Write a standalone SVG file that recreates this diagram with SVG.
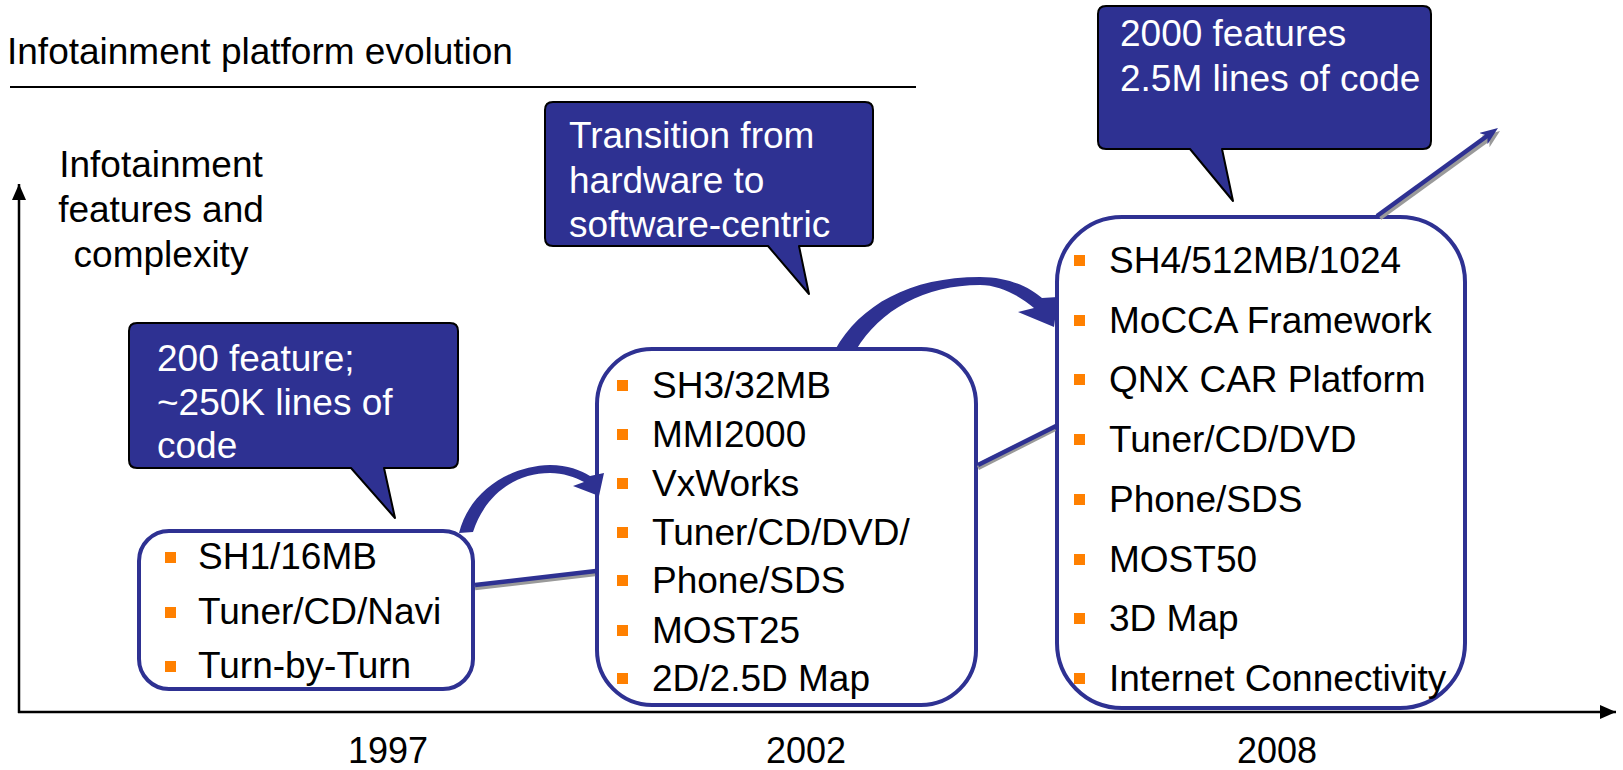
<svg xmlns="http://www.w3.org/2000/svg" width="1623" height="770" viewBox="0 0 1623 770">
<style>
text{font-family:"Liberation Sans",Arial,sans-serif;font-size:37px;fill:#000}
.wt{fill:#fff}
.mid{text-anchor:middle}
.box{fill:#fff;stroke:#2e3192;stroke-width:4}
.call{fill:#2e3192;stroke:#000;stroke-width:2;stroke-linejoin:round}
.bul{fill:#ff8000}
.trend{stroke:#2e3192;stroke-width:4.5;fill:none}
.shadow{stroke:#9a9a9a;stroke-width:4.5;fill:none}
.axis{stroke:#000;stroke-width:2.5;fill:none}
.arc{fill:#2e3192}
</style>
<defs>
<marker id="axhead" viewBox="0 0 16 14" refX="16" refY="7" markerWidth="16" markerHeight="14" markerUnits="userSpaceOnUse" orient="auto"><path d="M0,0 L16,7 L0,14 Z" fill="#000"/></marker>
<marker id="bluehead" viewBox="0 0 18 14" refX="10" refY="7" markerWidth="18" markerHeight="14" markerUnits="userSpaceOnUse" orient="auto"><path d="M0,0 L18,7 L0,14 L5,7 Z" fill="#2e3192"/></marker>
<marker id="grayhead" viewBox="0 0 18 14" refX="10" refY="7" markerWidth="18" markerHeight="14" markerUnits="userSpaceOnUse" orient="auto"><path d="M0,0 L18,7 L0,14 L5,7 Z" fill="#9a9a9a"/></marker>
</defs>

<g id="title">
<text x="7" y="64">Infotainment platform evolution</text>
<line x1="10" y1="87" x2="916" y2="87" stroke="#000" stroke-width="2"/>
</g>

<g id="y-label">
<text class="mid" x="161" y="177">Infotainment</text>
<text class="mid" x="161" y="222">features and</text>
<text class="mid" x="161" y="267">complexity</text>
</g>

<g id="axes">
<line class="axis" x1="19" y1="713" x2="19" y2="184" marker-end="url(#axhead)"/>
<line class="axis" x1="18" y1="712" x2="1616" y2="712" marker-end="url(#axhead)"/>
</g>

<g id="years">
<text class="mid" x="388" y="763" style="font-size:36px">1997</text>
<text class="mid" x="806" y="763" style="font-size:36px">2002</text>
<text class="mid" x="1277" y="763" style="font-size:36px">2008</text>
</g>

<g id="callout-1997">
<path class="call" d="M137,323 H450 Q458,323 458,331 V460 Q458,468 450,468 H384 L395,518 L351,468 H137 Q129,468 129,460 V331 Q129,323 137,323 Z"/>
<text class="wt" x="157" y="371">200 feature;</text>
<text class="wt" x="157" y="415">~250K lines of</text>
<text class="wt" x="157" y="458">code</text>
</g>

<g id="callout-2002">
<path class="call" d="M553,102 H865 Q873,102 873,110 V238 Q873,246 865,246 H799 L809,294 L768,246 H553 Q545,246 545,238 V110 Q545,102 553,102 Z"/>
<text class="wt" x="569" y="148">Transition from</text>
<text class="wt" x="569" y="193">hardware to</text>
<text class="wt" x="569" y="237">software-centric</text>
</g>

<g id="callout-2008">
<path class="call" d="M1106,6 H1423 Q1431,6 1431,14 V141 Q1431,149 1423,149 H1222 L1233,201 L1190,149 H1106 Q1098,149 1098,141 V14 Q1098,6 1106,6 Z"/>
<text class="wt" x="1120" y="46">2000 features</text>
<text class="wt" x="1120" y="91">2.5M lines of code</text>
</g>

<g id="node-1997">
<rect class="box" x="139" y="531" width="334" height="158" rx="30" ry="30"/>
<rect class="bul" x="165" y="552" width="11" height="11"/><text x="198" y="569">SH1/16MB</text>
<rect class="bul" x="165" y="607" width="11" height="11"/><text x="198" y="624">Tuner/CD/Navi</text>
<rect class="bul" x="165" y="661" width="11" height="11"/><text x="198" y="678">Turn-by-Turn</text>
</g>

<g id="node-2002">
<rect class="box" x="597" y="349" width="379" height="356" rx="55" ry="55"/>
<rect class="bul" x="617" y="380" width="11" height="11"/><text x="652" y="398">SH3/32MB</text>
<rect class="bul" x="617" y="429" width="11" height="11"/><text x="652" y="447">MMI2000</text>
<rect class="bul" x="617" y="478" width="11" height="11"/><text x="652" y="496">VxWorks</text>
<rect class="bul" x="617" y="527" width="11" height="11"/><text x="652" y="545">Tuner/CD/DVD/</text>
<rect class="bul" x="617" y="575" width="11" height="11"/><text x="652" y="593">Phone/SDS</text>
<rect class="bul" x="617" y="625" width="11" height="11"/><text x="652" y="643">MOST25</text>
<rect class="bul" x="617" y="673" width="11" height="11"/><text x="652" y="691">2D/2.5D Map</text>
</g>

<g id="node-2008">
<rect class="box" x="1057" y="217" width="408" height="491" rx="65" ry="65"/>
<rect class="bul" x="1074" y="255" width="11" height="11"/><text x="1109" y="273">SH4/512MB/1024</text>
<rect class="bul" x="1074" y="315" width="11" height="11"/><text x="1109" y="333">MoCCA Framework</text>
<rect class="bul" x="1074" y="374" width="11" height="11"/><text x="1109" y="392">QNX CAR Platform</text>
<rect class="bul" x="1074" y="434" width="11" height="11"/><text x="1109" y="452">Tuner/CD/DVD</text>
<rect class="bul" x="1074" y="494" width="11" height="11"/><text x="1109" y="512">Phone/SDS</text>
<rect class="bul" x="1074" y="554" width="11" height="11"/><text x="1109" y="572">MOST50</text>
<rect class="bul" x="1074" y="613" width="11" height="11"/><text x="1109" y="631">3D Map</text>
<rect class="bul" x="1074" y="673" width="11" height="11"/><text x="1109" y="691">Internet Connectivity</text>
</g>

<g id="connectors">
<line class="shadow" x1="475" y1="588" x2="595" y2="574"/>
<line class="trend" x1="475" y1="585" x2="596" y2="571"/>
<line class="shadow" x1="978" y1="468" x2="1055" y2="429"/>
<line class="trend" x1="978" y1="465" x2="1056" y2="426"/>
<line class="shadow" x1="1380" y1="218" x2="1493.5" y2="135.7" marker-end="url(#grayhead)"/>
<line class="trend" x1="1377" y1="216" x2="1491.5" y2="132.7" marker-end="url(#bluehead)"/>
<path class="arc" d="M459,533 C470,490 510,466 550,465 C568,465 580,470 590,476 L604,473 L599,496 L573,486 L584,482 C575,477 563,473 550,473 C515,473 485,495 473,532 Z"/>
<path class="arc" d="M835,350 C860,305 910,277 980,277 C1010,277 1030,288 1042,298 L1058,297 L1054,327 L1018,312 L1034,308 C1020,296 1000,285 980,285 C925,285 880,310 856,350 Z"/>
</g>
</svg>
